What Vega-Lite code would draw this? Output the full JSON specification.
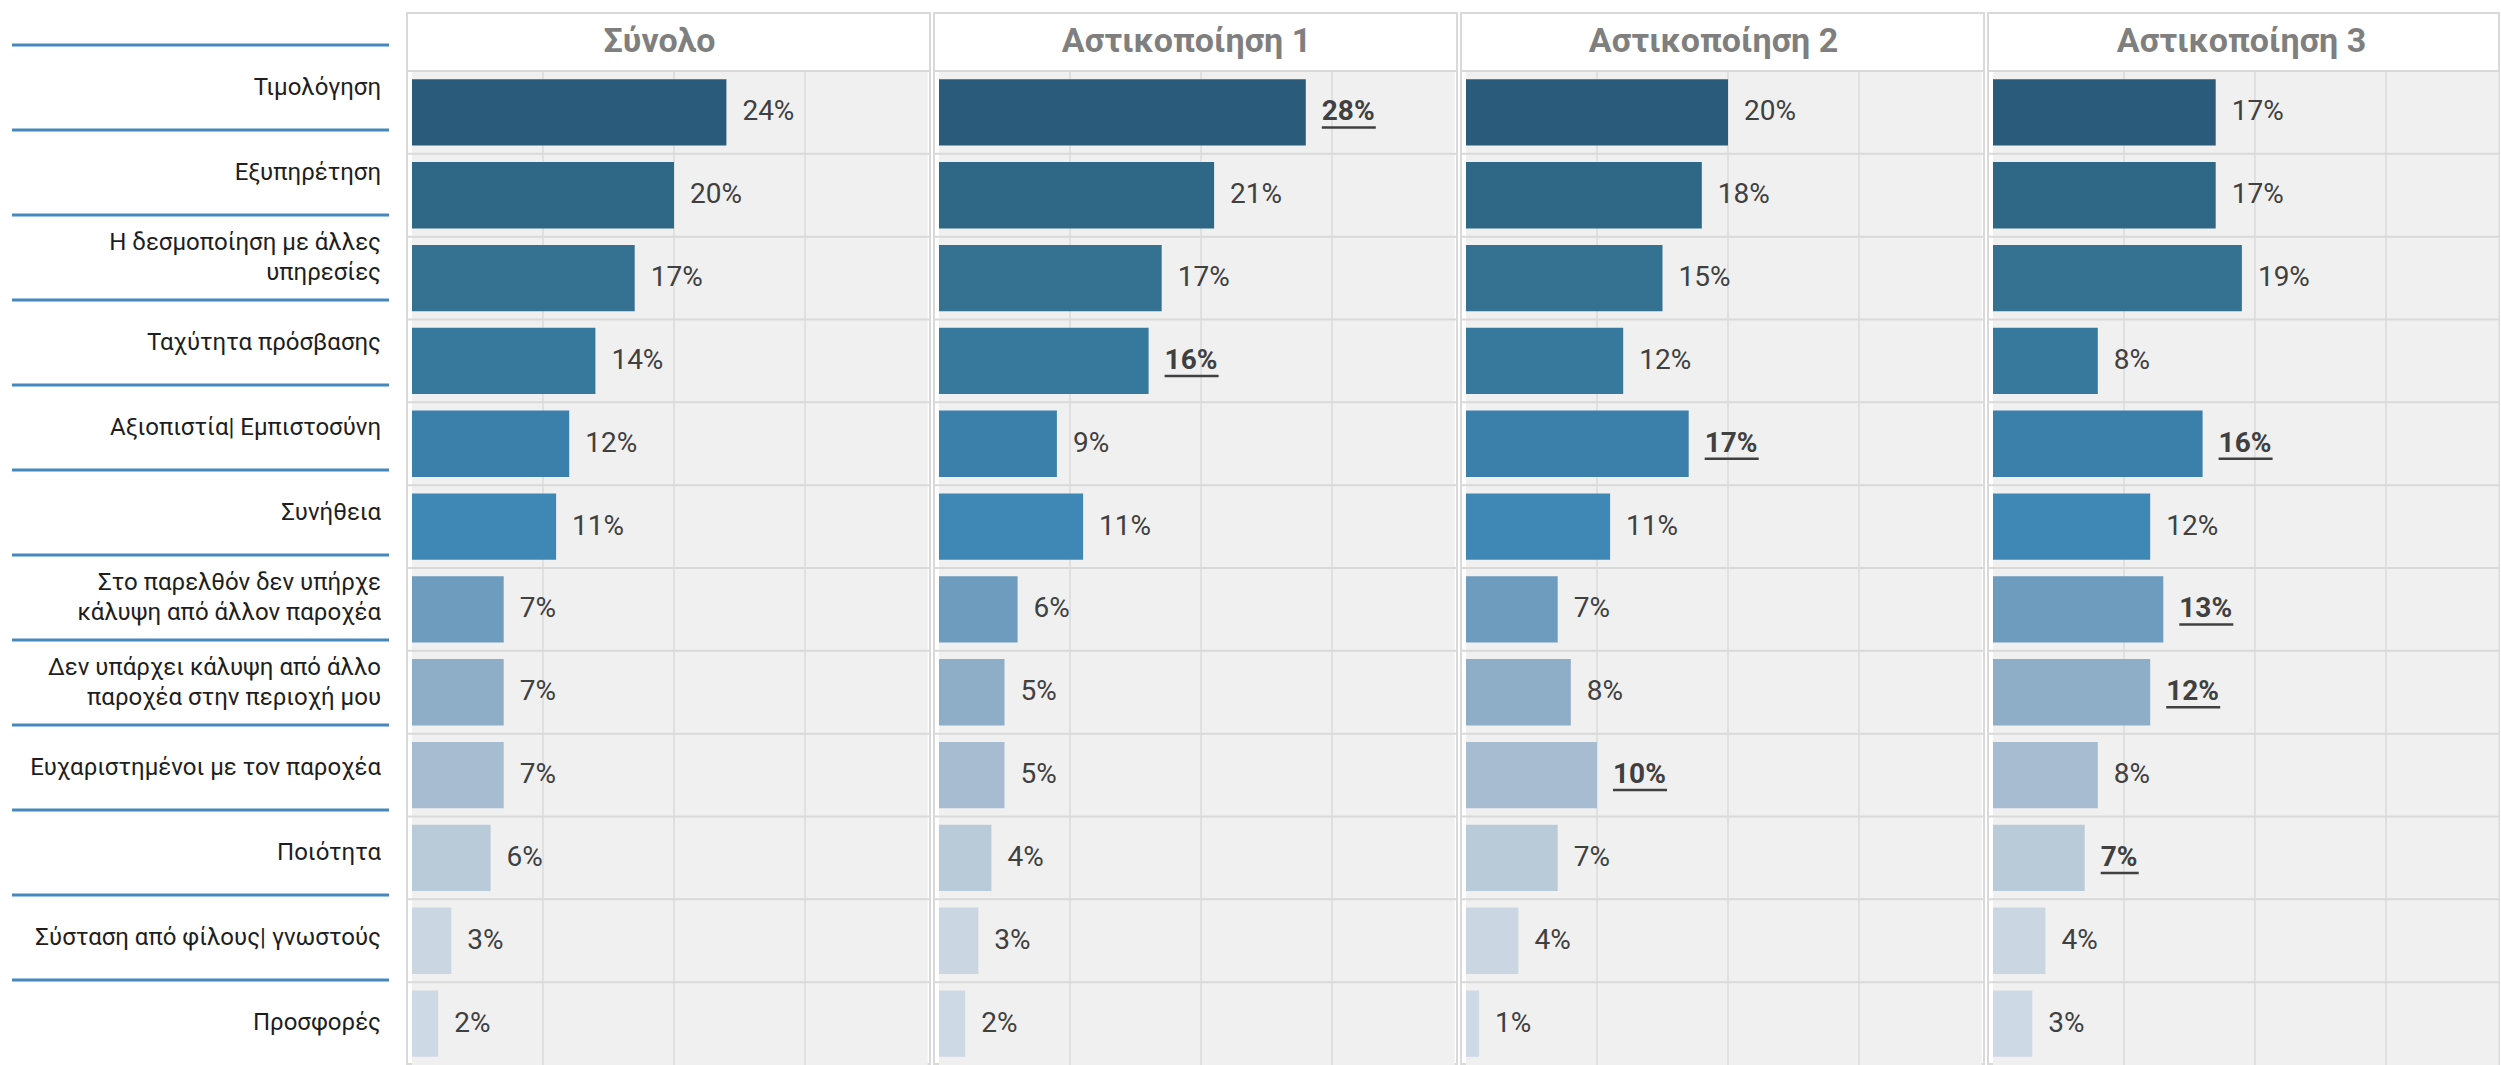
{
  "$schema": "https://vega.github.io/schema/vega-lite/v6.json",
  "padding": {"left": 10, "top": 12, "right": 0, "bottom": 0},
  "background": "white",
  "config": {
    "font": "Roboto",
    "view": {"stroke": "#d9d9d9", "strokeWidth": 2},
    "title": {"font": "Roboto", "fontSize": 34, "fontWeight": "bold", "color": "#7f7f7f", "anchor": "middle", "frame": "group", "offset": -46, "baseline": "alphabetic"}
  },
  "data": {"values": [
    {"group": "Σύνολο", "cat": "Τιμολόγηση", "value": 0.24, "sig": 0},
    {"group": "Σύνολο", "cat": "Εξυπηρέτηση", "value": 0.20, "sig": 0},
    {"group": "Σύνολο", "cat": "Η δεσμοποίηση με άλλες\nυπηρεσίες", "value": 0.17, "sig": 0},
    {"group": "Σύνολο", "cat": "Ταχύτητα πρόσβασης", "value": 0.14, "sig": 0},
    {"group": "Σύνολο", "cat": "Αξιοπιστία| Εμπιστοσύνη", "value": 0.12, "sig": 0},
    {"group": "Σύνολο", "cat": "Συνήθεια", "value": 0.11, "sig": 0},
    {"group": "Σύνολο", "cat": "Στο παρελθόν δεν υπήρχε\nκάλυψη από άλλον παροχέα", "value": 0.07, "sig": 0},
    {"group": "Σύνολο", "cat": "Δεν υπάρχει κάλυψη από άλλο\nπαροχέα στην περιοχή μου", "value": 0.07, "sig": 0},
    {"group": "Σύνολο", "cat": "Ευχαριστημένοι με τον παροχέα", "value": 0.07, "sig": 0},
    {"group": "Σύνολο", "cat": "Ποιότητα", "value": 0.06, "sig": 0},
    {"group": "Σύνολο", "cat": "Σύσταση από φίλους| γνωστούς", "value": 0.03, "sig": 0},
    {"group": "Σύνολο", "cat": "Προσφορές", "value": 0.02, "sig": 0},
    {"group": "Αστικοποίηση 1", "cat": "Τιμολόγηση", "value": 0.28, "sig": 1},
    {"group": "Αστικοποίηση 1", "cat": "Εξυπηρέτηση", "value": 0.21, "sig": 0},
    {"group": "Αστικοποίηση 1", "cat": "Η δεσμοποίηση με άλλες\nυπηρεσίες", "value": 0.17, "sig": 0},
    {"group": "Αστικοποίηση 1", "cat": "Ταχύτητα πρόσβασης", "value": 0.16, "sig": 1},
    {"group": "Αστικοποίηση 1", "cat": "Αξιοπιστία| Εμπιστοσύνη", "value": 0.09, "sig": 0},
    {"group": "Αστικοποίηση 1", "cat": "Συνήθεια", "value": 0.11, "sig": 0},
    {"group": "Αστικοποίηση 1", "cat": "Στο παρελθόν δεν υπήρχε\nκάλυψη από άλλον παροχέα", "value": 0.06, "sig": 0},
    {"group": "Αστικοποίηση 1", "cat": "Δεν υπάρχει κάλυψη από άλλο\nπαροχέα στην περιοχή μου", "value": 0.05, "sig": 0},
    {"group": "Αστικοποίηση 1", "cat": "Ευχαριστημένοι με τον παροχέα", "value": 0.05, "sig": 0},
    {"group": "Αστικοποίηση 1", "cat": "Ποιότητα", "value": 0.04, "sig": 0},
    {"group": "Αστικοποίηση 1", "cat": "Σύσταση από φίλους| γνωστούς", "value": 0.03, "sig": 0},
    {"group": "Αστικοποίηση 1", "cat": "Προσφορές", "value": 0.02, "sig": 0},
    {"group": "Αστικοποίηση 2", "cat": "Τιμολόγηση", "value": 0.20, "sig": 0},
    {"group": "Αστικοποίηση 2", "cat": "Εξυπηρέτηση", "value": 0.18, "sig": 0},
    {"group": "Αστικοποίηση 2", "cat": "Η δεσμοποίηση με άλλες\nυπηρεσίες", "value": 0.15, "sig": 0},
    {"group": "Αστικοποίηση 2", "cat": "Ταχύτητα πρόσβασης", "value": 0.12, "sig": 0},
    {"group": "Αστικοποίηση 2", "cat": "Αξιοπιστία| Εμπιστοσύνη", "value": 0.17, "sig": 1},
    {"group": "Αστικοποίηση 2", "cat": "Συνήθεια", "value": 0.11, "sig": 0},
    {"group": "Αστικοποίηση 2", "cat": "Στο παρελθόν δεν υπήρχε\nκάλυψη από άλλον παροχέα", "value": 0.07, "sig": 0},
    {"group": "Αστικοποίηση 2", "cat": "Δεν υπάρχει κάλυψη από άλλο\nπαροχέα στην περιοχή μου", "value": 0.08, "sig": 0},
    {"group": "Αστικοποίηση 2", "cat": "Ευχαριστημένοι με τον παροχέα", "value": 0.10, "sig": 1},
    {"group": "Αστικοποίηση 2", "cat": "Ποιότητα", "value": 0.07, "sig": 0},
    {"group": "Αστικοποίηση 2", "cat": "Σύσταση από φίλους| γνωστούς", "value": 0.04, "sig": 0},
    {"group": "Αστικοποίηση 2", "cat": "Προσφορές", "value": 0.01, "sig": 0},
    {"group": "Αστικοποίηση 3", "cat": "Τιμολόγηση", "value": 0.17, "sig": 0},
    {"group": "Αστικοποίηση 3", "cat": "Εξυπηρέτηση", "value": 0.17, "sig": 0},
    {"group": "Αστικοποίηση 3", "cat": "Η δεσμοποίηση με άλλες\nυπηρεσίες", "value": 0.19, "sig": 0},
    {"group": "Αστικοποίηση 3", "cat": "Ταχύτητα πρόσβασης", "value": 0.08, "sig": 0},
    {"group": "Αστικοποίηση 3", "cat": "Αξιοπιστία| Εμπιστοσύνη", "value": 0.16, "sig": 1},
    {"group": "Αστικοποίηση 3", "cat": "Συνήθεια", "value": 0.12, "sig": 0},
    {"group": "Αστικοποίηση 3", "cat": "Στο παρελθόν δεν υπήρχε\nκάλυψη από άλλον παροχέα", "value": 0.13, "sig": 1},
    {"group": "Αστικοποίηση 3", "cat": "Δεν υπάρχει κάλυψη από άλλο\nπαροχέα στην περιοχή μου", "value": 0.12, "sig": 1},
    {"group": "Αστικοποίηση 3", "cat": "Ευχαριστημένοι με τον παροχέα", "value": 0.08, "sig": 0},
    {"group": "Αστικοποίηση 3", "cat": "Ποιότητα", "value": 0.07, "sig": 1},
    {"group": "Αστικοποίηση 3", "cat": "Σύσταση από φίλους| γνωστούς", "value": 0.04, "sig": 0},
    {"group": "Αστικοποίηση 3", "cat": "Προσφορές", "value": 0.03, "sig": 0}
  ]},
  "spacing": 14,
  "hconcat": [
    {
      "width": 377, "height": 1051,
      "view": {"stroke": null},
      "transform": [{"filter": "datum.group == 'Σύνολο'"}],
      "encoding": {"y": {"field": "cat", "type": "nominal", "axis": null, "scale": {"domain": ["Τιμολόγηση", "Εξυπηρέτηση", "Η δεσμοποίηση με άλλες\nυπηρεσίες", "Ταχύτητα πρόσβασης", "Αξιοπιστία| Εμπιστοσύνη", "Συνήθεια", "Στο παρελθόν δεν υπήρχε\nκάλυψη από άλλον παροχέα", "Δεν υπάρχει κάλυψη από άλλο\nπαροχέα στην περιοχή μου", "Ευχαριστημένοι με τον παροχέα", "Ποιότητα", "Σύσταση από φίλους| γνωστούς", "Προσφορές"], "range": [32, 1052], "paddingInner": 0, "paddingOuter": 0}}},
      "layer": [
        {"mark": {"type": "rule", "color": "#4588bd", "strokeWidth": 3}, "encoding": {"y": {"field": "cat", "type": "nominal", "bandPosition": 0}}},
        {"transform": [{"filter": "indexof(datum.cat, '\\n') < 0"}], "mark": {"type": "text", "align": "right", "baseline": "middle", "dx": -8, "fontSize": 24, "color": "#1e1e1e"}, "encoding": {"x": {"value": "width"}, "text": {"field": "cat"}}},
        {"transform": [{"filter": "indexof(datum.cat, '\\n') >= 0"}], "mark": {"type": "text", "align": "right", "baseline": "middle", "dx": -8, "dy": -15, "fontSize": 24, "lineBreak": "\n", "lineHeight": 30, "color": "#1e1e1e"}, "encoding": {"x": {"value": "width"}, "text": {"field": "cat"}}}
      ]
    },
    {
      "spacing": 0,
      "hconcat": [
        {
          "title": {"text": "Σύνολο", "dx": -9},
          "width": 523, "height": 1051,
          "transform": [{"filter": "datum.group == 'Σύνολο'"}],
          "encoding": {"y": {"field": "cat", "type": "nominal", "axis": null, "scale": {"domain": ["Τιμολόγηση", "Εξυπηρέτηση", "Η δεσμοποίηση με άλλες\nυπηρεσίες", "Ταχύτητα πρόσβασης", "Αξιοπιστία| Εμπιστοσύνη", "Συνήθεια", "Στο παρελθόν δεν υπήρχε\nκάλυψη από άλλον παροχέα", "Δεν υπάρχει κάλυψη από άλλο\nπαροχέα στην περιοχή μου", "Ευχαριστημένοι με τον παροχέα", "Ποιότητα", "Σύσταση από φίλους| γνωστούς", "Προσφορές"], "range": [58, 1052], "paddingInner": 0, "paddingOuter": 0}}},
          "layer": [
            {"mark": {"type": "bar", "color": "#f0f0f0"}, "encoding": {"x": {"datum": 0, "type": "quantitative", "axis": null, "scale": {"domain": [0, 0.4], "range": [5, 529]}}, "x2": {"datum": 0.3937}}},
            {"mark": {"type": "tick", "color": "#d9d9d9", "size": 83, "thickness": 2}, "encoding": {"x": {"datum": 0.1, "type": "quantitative"}}},
            {"mark": {"type": "tick", "color": "#d9d9d9", "size": 83, "thickness": 2}, "encoding": {"x": {"datum": 0.2, "type": "quantitative"}}},
            {"mark": {"type": "tick", "color": "#d9d9d9", "size": 83, "thickness": 2}, "encoding": {"x": {"datum": 0.3, "type": "quantitative"}}},
            {"mark": {"type": "rule", "color": "#d9d9d9", "strokeWidth": 2}, "encoding": {"y": {"field": "cat", "type": "nominal", "bandPosition": 0}}},
            {"mark": {"type": "bar", "height": {"band": 0.8}}, "encoding": {"x": {"field": "value", "type": "quantitative"}, "color": {"field": "cat", "type": "nominal", "legend": null, "scale": {"domain": ["Τιμολόγηση", "Εξυπηρέτηση", "Η δεσμοποίηση με άλλες\nυπηρεσίες", "Ταχύτητα πρόσβασης", "Αξιοπιστία| Εμπιστοσύνη", "Συνήθεια", "Στο παρελθόν δεν υπήρχε\nκάλυψη από άλλον παροχέα", "Δεν υπάρχει κάλυψη από άλλο\nπαροχέα στην περιοχή μου", "Ευχαριστημένοι με τον παροχέα", "Ποιότητα", "Σύσταση από φίλους| γνωστούς", "Προσφορές"], "range": ["#2a5b7a", "#2f6886", "#357292", "#37789d", "#3b80ab", "#3f88b5", "#6d9cbe", "#8eadc7", "#a7bcd1", "#b9cad9", "#cad7e3", "#cdd9e5"]}}}},
            {"transform": [{"filter": "datum.sig == 0"}], "mark": {"type": "text", "align": "left", "baseline": "middle", "dx": 16, "fontSize": 28, "color": "#404040"}, "encoding": {"x": {"field": "value", "type": "quantitative"}, "text": {"field": "value", "format": ".0%"}}},
            {"transform": [{"filter": "datum.sig == 1"}], "mark": {"type": "text", "align": "left", "baseline": "middle", "dx": 16, "fontSize": 28, "fontWeight": "bold", "color": "#404040"}, "encoding": {"x": {"field": "value", "type": "quantitative"}, "text": {"field": "value", "format": ".0%"}}},
            {"transform": [{"filter": "datum.sig == 1 && datum.value >= 0.095"}], "mark": {"type": "rule", "color": "#404040", "strokeWidth": 2.5, "xOffset": 16, "x2Offset": 70, "yOffset": 15}, "encoding": {"x": {"field": "value", "type": "quantitative"}, "x2": {"field": "value"}}},
            {"transform": [{"filter": "datum.sig == 1 && datum.value < 0.095"}], "mark": {"type": "rule", "color": "#404040", "strokeWidth": 2.5, "xOffset": 16, "x2Offset": 54, "yOffset": 15}, "encoding": {"x": {"field": "value", "type": "quantitative"}, "x2": {"field": "value"}}}
          ]
        },
        {
          "title": {"text": "Αστικοποίηση 1", "dx": -9},
          "width": 523, "height": 1051,
          "transform": [{"filter": "datum.group == 'Αστικοποίηση 1'"}],
          "encoding": {"y": {"field": "cat", "type": "nominal", "axis": null, "scale": {"domain": ["Τιμολόγηση", "Εξυπηρέτηση", "Η δεσμοποίηση με άλλες\nυπηρεσίες", "Ταχύτητα πρόσβασης", "Αξιοπιστία| Εμπιστοσύνη", "Συνήθεια", "Στο παρελθόν δεν υπήρχε\nκάλυψη από άλλον παροχέα", "Δεν υπάρχει κάλυψη από άλλο\nπαροχέα στην περιοχή μου", "Ευχαριστημένοι με τον παροχέα", "Ποιότητα", "Σύσταση από φίλους| γνωστούς", "Προσφορές"], "range": [58, 1052], "paddingInner": 0, "paddingOuter": 0}}},
          "layer": [
            {"mark": {"type": "bar", "color": "#f0f0f0"}, "encoding": {"x": {"datum": 0, "type": "quantitative", "axis": null, "scale": {"domain": [0, 0.4], "range": [5, 529]}}, "x2": {"datum": 0.3937}}},
            {"mark": {"type": "tick", "color": "#d9d9d9", "size": 83, "thickness": 2}, "encoding": {"x": {"datum": 0.1, "type": "quantitative"}}},
            {"mark": {"type": "tick", "color": "#d9d9d9", "size": 83, "thickness": 2}, "encoding": {"x": {"datum": 0.2, "type": "quantitative"}}},
            {"mark": {"type": "tick", "color": "#d9d9d9", "size": 83, "thickness": 2}, "encoding": {"x": {"datum": 0.3, "type": "quantitative"}}},
            {"mark": {"type": "rule", "color": "#d9d9d9", "strokeWidth": 2}, "encoding": {"y": {"field": "cat", "type": "nominal", "bandPosition": 0}}},
            {"mark": {"type": "bar", "height": {"band": 0.8}}, "encoding": {"x": {"field": "value", "type": "quantitative"}, "color": {"field": "cat", "type": "nominal", "legend": null, "scale": {"domain": ["Τιμολόγηση", "Εξυπηρέτηση", "Η δεσμοποίηση με άλλες\nυπηρεσίες", "Ταχύτητα πρόσβασης", "Αξιοπιστία| Εμπιστοσύνη", "Συνήθεια", "Στο παρελθόν δεν υπήρχε\nκάλυψη από άλλον παροχέα", "Δεν υπάρχει κάλυψη από άλλο\nπαροχέα στην περιοχή μου", "Ευχαριστημένοι με τον παροχέα", "Ποιότητα", "Σύσταση από φίλους| γνωστούς", "Προσφορές"], "range": ["#2a5b7a", "#2f6886", "#357292", "#37789d", "#3b80ab", "#3f88b5", "#6d9cbe", "#8eadc7", "#a7bcd1", "#b9cad9", "#cad7e3", "#cdd9e5"]}}}},
            {"transform": [{"filter": "datum.sig == 0"}], "mark": {"type": "text", "align": "left", "baseline": "middle", "dx": 16, "fontSize": 28, "color": "#404040"}, "encoding": {"x": {"field": "value", "type": "quantitative"}, "text": {"field": "value", "format": ".0%"}}},
            {"transform": [{"filter": "datum.sig == 1"}], "mark": {"type": "text", "align": "left", "baseline": "middle", "dx": 16, "fontSize": 28, "fontWeight": "bold", "color": "#404040"}, "encoding": {"x": {"field": "value", "type": "quantitative"}, "text": {"field": "value", "format": ".0%"}}},
            {"transform": [{"filter": "datum.sig == 1 && datum.value >= 0.095"}], "mark": {"type": "rule", "color": "#404040", "strokeWidth": 2.5, "xOffset": 16, "x2Offset": 70, "yOffset": 15}, "encoding": {"x": {"field": "value", "type": "quantitative"}, "x2": {"field": "value"}}},
            {"transform": [{"filter": "datum.sig == 1 && datum.value < 0.095"}], "mark": {"type": "rule", "color": "#404040", "strokeWidth": 2.5, "xOffset": 16, "x2Offset": 54, "yOffset": 15}, "encoding": {"x": {"field": "value", "type": "quantitative"}, "x2": {"field": "value"}}}
          ]
        },
        {
          "title": {"text": "Αστικοποίηση 2", "dx": -9},
          "width": 523, "height": 1051,
          "transform": [{"filter": "datum.group == 'Αστικοποίηση 2'"}],
          "encoding": {"y": {"field": "cat", "type": "nominal", "axis": null, "scale": {"domain": ["Τιμολόγηση", "Εξυπηρέτηση", "Η δεσμοποίηση με άλλες\nυπηρεσίες", "Ταχύτητα πρόσβασης", "Αξιοπιστία| Εμπιστοσύνη", "Συνήθεια", "Στο παρελθόν δεν υπήρχε\nκάλυψη από άλλον παροχέα", "Δεν υπάρχει κάλυψη από άλλο\nπαροχέα στην περιοχή μου", "Ευχαριστημένοι με τον παροχέα", "Ποιότητα", "Σύσταση από φίλους| γνωστούς", "Προσφορές"], "range": [58, 1052], "paddingInner": 0, "paddingOuter": 0}}},
          "layer": [
            {"mark": {"type": "bar", "color": "#f0f0f0"}, "encoding": {"x": {"datum": 0, "type": "quantitative", "axis": null, "scale": {"domain": [0, 0.4], "range": [5, 529]}}, "x2": {"datum": 0.3937}}},
            {"mark": {"type": "tick", "color": "#d9d9d9", "size": 83, "thickness": 2}, "encoding": {"x": {"datum": 0.1, "type": "quantitative"}}},
            {"mark": {"type": "tick", "color": "#d9d9d9", "size": 83, "thickness": 2}, "encoding": {"x": {"datum": 0.2, "type": "quantitative"}}},
            {"mark": {"type": "tick", "color": "#d9d9d9", "size": 83, "thickness": 2}, "encoding": {"x": {"datum": 0.3, "type": "quantitative"}}},
            {"mark": {"type": "rule", "color": "#d9d9d9", "strokeWidth": 2}, "encoding": {"y": {"field": "cat", "type": "nominal", "bandPosition": 0}}},
            {"mark": {"type": "bar", "height": {"band": 0.8}}, "encoding": {"x": {"field": "value", "type": "quantitative"}, "color": {"field": "cat", "type": "nominal", "legend": null, "scale": {"domain": ["Τιμολόγηση", "Εξυπηρέτηση", "Η δεσμοποίηση με άλλες\nυπηρεσίες", "Ταχύτητα πρόσβασης", "Αξιοπιστία| Εμπιστοσύνη", "Συνήθεια", "Στο παρελθόν δεν υπήρχε\nκάλυψη από άλλον παροχέα", "Δεν υπάρχει κάλυψη από άλλο\nπαροχέα στην περιοχή μου", "Ευχαριστημένοι με τον παροχέα", "Ποιότητα", "Σύσταση από φίλους| γνωστούς", "Προσφορές"], "range": ["#2a5b7a", "#2f6886", "#357292", "#37789d", "#3b80ab", "#3f88b5", "#6d9cbe", "#8eadc7", "#a7bcd1", "#b9cad9", "#cad7e3", "#cdd9e5"]}}}},
            {"transform": [{"filter": "datum.sig == 0"}], "mark": {"type": "text", "align": "left", "baseline": "middle", "dx": 16, "fontSize": 28, "color": "#404040"}, "encoding": {"x": {"field": "value", "type": "quantitative"}, "text": {"field": "value", "format": ".0%"}}},
            {"transform": [{"filter": "datum.sig == 1"}], "mark": {"type": "text", "align": "left", "baseline": "middle", "dx": 16, "fontSize": 28, "fontWeight": "bold", "color": "#404040"}, "encoding": {"x": {"field": "value", "type": "quantitative"}, "text": {"field": "value", "format": ".0%"}}},
            {"transform": [{"filter": "datum.sig == 1 && datum.value >= 0.095"}], "mark": {"type": "rule", "color": "#404040", "strokeWidth": 2.5, "xOffset": 16, "x2Offset": 70, "yOffset": 15}, "encoding": {"x": {"field": "value", "type": "quantitative"}, "x2": {"field": "value"}}},
            {"transform": [{"filter": "datum.sig == 1 && datum.value < 0.095"}], "mark": {"type": "rule", "color": "#404040", "strokeWidth": 2.5, "xOffset": 16, "x2Offset": 54, "yOffset": 15}, "encoding": {"x": {"field": "value", "type": "quantitative"}, "x2": {"field": "value"}}}
          ]
        },
        {
          "title": {"text": "Αστικοποίηση 3", "dx": -2},
          "width": 511, "height": 1051,
          "transform": [{"filter": "datum.group == 'Αστικοποίηση 3'"}],
          "encoding": {"y": {"field": "cat", "type": "nominal", "axis": null, "scale": {"domain": ["Τιμολόγηση", "Εξυπηρέτηση", "Η δεσμοποίηση με άλλες\nυπηρεσίες", "Ταχύτητα πρόσβασης", "Αξιοπιστία| Εμπιστοσύνη", "Συνήθεια", "Στο παρελθόν δεν υπήρχε\nκάλυψη από άλλον παροχέα", "Δεν υπάρχει κάλυψη από άλλο\nπαροχέα στην περιοχή μου", "Ευχαριστημένοι με τον παροχέα", "Ποιότητα", "Σύσταση από φίλους| γνωστούς", "Προσφορές"], "range": [58, 1052], "paddingInner": 0, "paddingOuter": 0}}},
          "layer": [
            {"mark": {"type": "bar", "color": "#f0f0f0"}, "encoding": {"x": {"datum": 0, "type": "quantitative", "axis": null, "scale": {"domain": [0, 0.4], "range": [5, 529]}}, "x2": {"datum": 0.386}}},
            {"mark": {"type": "tick", "color": "#d9d9d9", "size": 83, "thickness": 2}, "encoding": {"x": {"datum": 0.1, "type": "quantitative"}}},
            {"mark": {"type": "tick", "color": "#d9d9d9", "size": 83, "thickness": 2}, "encoding": {"x": {"datum": 0.2, "type": "quantitative"}}},
            {"mark": {"type": "tick", "color": "#d9d9d9", "size": 83, "thickness": 2}, "encoding": {"x": {"datum": 0.3, "type": "quantitative"}}},
            {"mark": {"type": "rule", "color": "#d9d9d9", "strokeWidth": 2}, "encoding": {"y": {"field": "cat", "type": "nominal", "bandPosition": 0}}},
            {"mark": {"type": "bar", "height": {"band": 0.8}}, "encoding": {"x": {"field": "value", "type": "quantitative"}, "color": {"field": "cat", "type": "nominal", "legend": null, "scale": {"domain": ["Τιμολόγηση", "Εξυπηρέτηση", "Η δεσμοποίηση με άλλες\nυπηρεσίες", "Ταχύτητα πρόσβασης", "Αξιοπιστία| Εμπιστοσύνη", "Συνήθεια", "Στο παρελθόν δεν υπήρχε\nκάλυψη από άλλον παροχέα", "Δεν υπάρχει κάλυψη από άλλο\nπαροχέα στην περιοχή μου", "Ευχαριστημένοι με τον παροχέα", "Ποιότητα", "Σύσταση από φίλους| γνωστούς", "Προσφορές"], "range": ["#2a5b7a", "#2f6886", "#357292", "#37789d", "#3b80ab", "#3f88b5", "#6d9cbe", "#8eadc7", "#a7bcd1", "#b9cad9", "#cad7e3", "#cdd9e5"]}}}},
            {"transform": [{"filter": "datum.sig == 0"}], "mark": {"type": "text", "align": "left", "baseline": "middle", "dx": 16, "fontSize": 28, "color": "#404040"}, "encoding": {"x": {"field": "value", "type": "quantitative"}, "text": {"field": "value", "format": ".0%"}}},
            {"transform": [{"filter": "datum.sig == 1"}], "mark": {"type": "text", "align": "left", "baseline": "middle", "dx": 16, "fontSize": 28, "fontWeight": "bold", "color": "#404040"}, "encoding": {"x": {"field": "value", "type": "quantitative"}, "text": {"field": "value", "format": ".0%"}}},
            {"transform": [{"filter": "datum.sig == 1 && datum.value >= 0.095"}], "mark": {"type": "rule", "color": "#404040", "strokeWidth": 2.5, "xOffset": 16, "x2Offset": 70, "yOffset": 15}, "encoding": {"x": {"field": "value", "type": "quantitative"}, "x2": {"field": "value"}}},
            {"transform": [{"filter": "datum.sig == 1 && datum.value < 0.095"}], "mark": {"type": "rule", "color": "#404040", "strokeWidth": 2.5, "xOffset": 16, "x2Offset": 54, "yOffset": 15}, "encoding": {"x": {"field": "value", "type": "quantitative"}, "x2": {"field": "value"}}}
          ]
        }
      ]
    }
  ]
}
